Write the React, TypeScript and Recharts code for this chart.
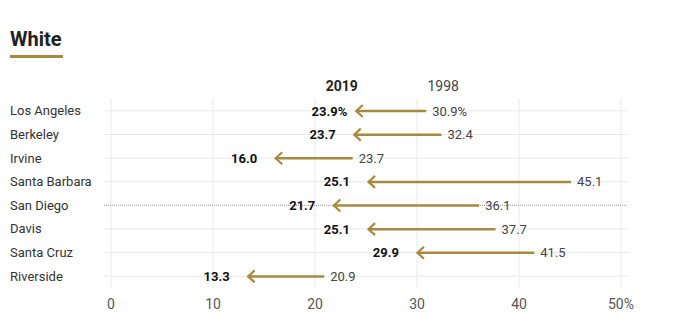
import { Bar, CartesianGrid, ComposedChart, XAxis, YAxis } from "recharts";

const cities = ["Los Angeles", "Berkeley", "Irvine", "Santa Barbara", "San Diego", "Davis", "Santa Cruz", "Riverside"];
const share2019 = [23.9, 23.7, 16.0, 25.1, 21.7, 25.1, 29.9, 13.3];
const share1998 = [30.9, 32.4, 23.7, 45.1, 36.1, 37.7, 41.5, 20.9];
const xTicks = [0, 10, 20, 30, 40, 50];

const data = cities.map((city, i) => ({
  city,
  now: share2019[i],
  then: share1998[i],
  range: [share2019[i], share1998[i]],
}));

const GOLD = "#a88a3f";
const FONT = "Roboto, sans-serif";

const W = 679;
const H = 335;
const M = { top: 99, right: 51, bottom: 17, left: 0 };
const Y_AXIS_W = 104;
const X_AXIS_H = 30;
const X_PAD = 7;
const plotH = H - M.top - M.bottom - X_AXIS_H;
const plotW = W - M.left - M.right - Y_AXIS_W;
const band = plotH / cities.length;
// grid lines: through the middle of each row, and at each x tick only
const rowLine = (c: string) => M.top + (cities.indexOf(c) + 0.5) * band;
const gridRows = cities.filter((c) => c !== "San Diego").map(rowLine);
const dottedRows = [rowLine("San Diego")];
const gridCols = xTicks.map((t) => M.left + Y_AXIS_W + X_PAD + (t / 50) * (plotW - 2 * X_PAD));

function ArrowShape(props: any) {
  const { x, y, width, height, payload } = props;
  const cy = y + height / 2;
  const tip = x;
  const start = x + width;
  const first = payload.city === cities[0];
  return (
    <g fontFamily={FONT} fontSize={13}>
      <line x1={start} y1={cy} x2={tip + 1} y2={cy} stroke={GOLD} strokeWidth={2.5} />
      <polyline
        points={`${tip + 8},${cy - 6} ${tip + 1.5},${cy} ${tip + 8},${cy + 6}`}
        fill="none"
        stroke={GOLD}
        strokeWidth={2.2}
      />
      <text x={tip - 17} y={cy} dy="0.35em" textAnchor="end" fontWeight={700} fill="#111">
        {payload.now.toFixed(1)}
      </text>
      {first && (
        <text x={tip - 17} y={cy} dy="0.35em" textAnchor="start" fontWeight={700} fill="#111">
          %
        </text>
      )}
      <text x={start + 6} y={cy} dy="0.35em" textAnchor="start" fill="#444">
        {payload.then.toFixed(1)}
        {first ? "%" : ""}
      </text>
      {first && (
        <>
          <text x={tip - 13} y={cy - 20} textAnchor="middle" fontWeight={700} fontSize={14} fill="#222">
            2019
          </text>
          <text x={start + 17} y={cy - 20} textAnchor="middle" fontSize={14} fill="#444">
            1998
          </text>
        </>
      )}
    </g>
  );
}

function CityTick(props: any) {
  const { y, payload } = props;
  return (
    <text x={10} y={y} dy="0.35em" textAnchor="start" fontFamily={FONT} fontSize={13} fill="#333">
      {payload.value}
    </text>
  );
}

export default function App() {
  return (
    <div style={{ position: "relative", width: W, height: H, background: "#fff" }}>
      <style>{`body{margin:0}`}</style>
      <div
        style={{
          position: "absolute",
          left: 10,
          top: 28,
          fontFamily: FONT,
          fontWeight: 700,
          fontSize: 20,
          lineHeight: "22px",
          color: "#222",
        }}
      >
        White
      </div>
      <div style={{ position: "absolute", left: 10, top: 55, width: 53, height: 3, background: GOLD }} />
      <div style={{ position: "absolute", left: 0, top: 0 }}>
        <ComposedChart width={W} height={H} data={data} layout="vertical" margin={M}>
          <CartesianGrid stroke="#e8e8e8" horizontalPoints={gridRows} verticalPoints={gridCols} />
          <CartesianGrid stroke="#9a9a9a" strokeDasharray="1 1" vertical={false} horizontalPoints={dottedRows} />
          <XAxis
            type="number"
            domain={[0, 50]}
            ticks={xTicks}
            padding={{ left: X_PAD, right: X_PAD }}
            axisLine={false}
            tickLine={false}
            height={X_AXIS_H}
            tickMargin={5}
            tick={{ fontFamily: FONT, fontSize: 14, fill: "#555" }}
            tickFormatter={(v: number) => (v === 50 ? "50%" : String(v))}
          />
          <YAxis
            type="category"
            dataKey="city"
            width={Y_AXIS_W}
            axisLine={false}
            tickLine={false}
            tick={<CityTick />}
            interval={0}
          />
          <Bar dataKey="range" barSize={10} shape={<ArrowShape />} isAnimationActive={false} />
        </ComposedChart>
      </div>
    </div>
  );
}
